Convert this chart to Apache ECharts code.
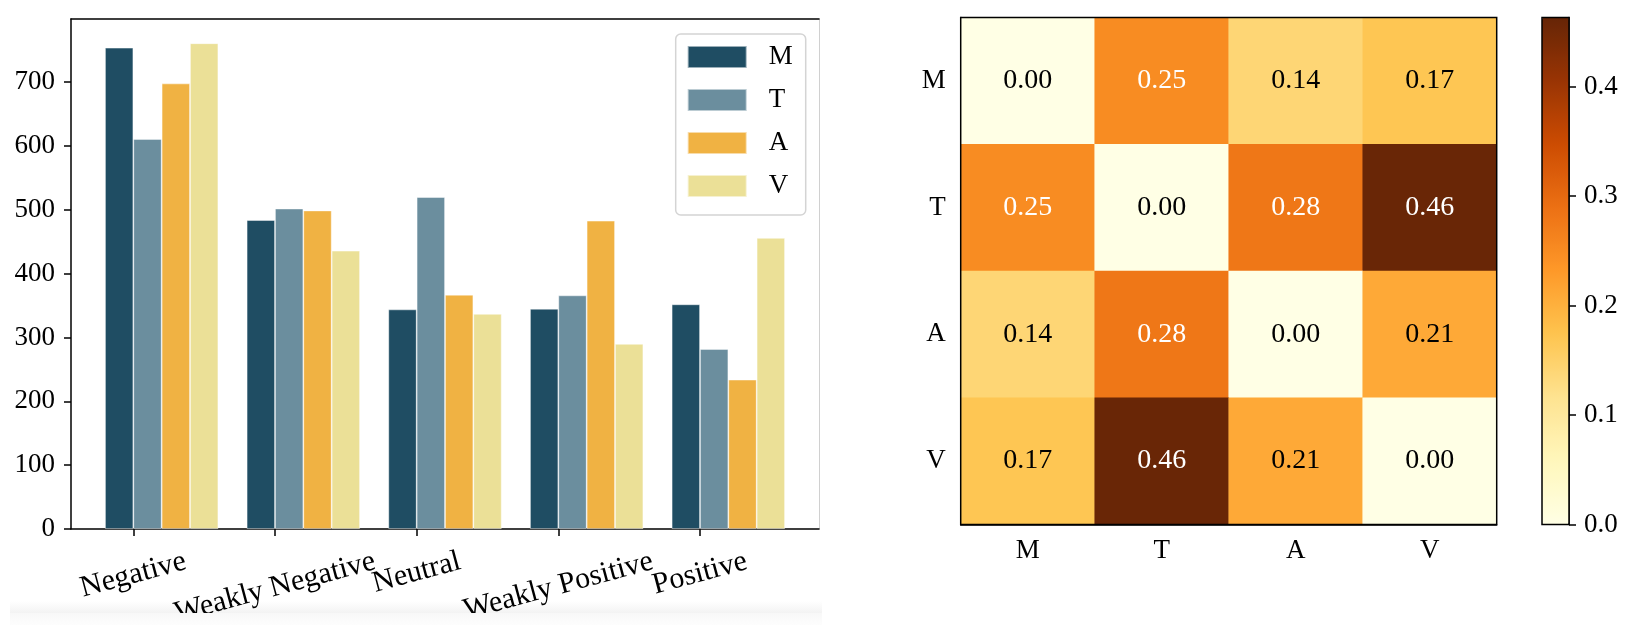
<!DOCTYPE html>
<html><head><meta charset="utf-8">
<script src="https://cdn.jsdelivr.net/npm/echarts@6/dist/echarts.min.js"></script>
<style>html,body{margin:0;padding:0;background:#fff}#c{width:1639px;height:625px}</style>
</head><body><div id="c"></div>
<script>
// ---------- data ----------
const categories = ['Negative', 'Weakly Negative', 'Neutral', 'Weakly Positive', 'Positive'];
const seriesNames = ['M', 'T', 'A', 'V'];
const valuesM = [754, 484, 344, 345, 352];
const valuesT = [611, 502, 520, 366, 282];
const valuesA = [698, 499, 367, 483, 234];
const valuesV = [761, 436, 337, 290, 456];
const barYTicks = [0, 100, 200, 300, 400, 500, 600, 700];

const modalities = ['M', 'T', 'A', 'V'];
const distM = [0.00, 0.25, 0.14, 0.17];
const distT = [0.25, 0.00, 0.28, 0.46];
const distA = [0.14, 0.28, 0.00, 0.21];
const distV = [0.17, 0.46, 0.21, 0.00];
const colorbarTicks = [0, 0.1, 0.2, 0.3, 0.4];

// ---------- style / layout ----------
const FONT = '"Liberation Serif", "Times New Roman", serif';
const FS = 27;
const XFS = 30;
const barColors = ['#1f4d63', '#6b8e9e', '#f0b243', '#ebe097'];
const ylorbr = ['#ffffe5', '#fff7bc', '#fee391', '#fec44f', '#fe9929', '#ec7014', '#cc4c02', '#993404', '#662506'];
const barGrid = {left: 71, top: 19, width: 748, height: 510};
const xMin = -0.44, xMax = 4.84, yMax = 799;
const barOffsets = [-0.1, 0.1, 0.3, 0.5];
const BW = barGrid.width * 0.2 / (xMax - xMin);
const heatGrid = {left: 960.7, top: 17.5, width: 536, height: 507};
const cbGrid = {left: 1542, top: 17.5, width: 27, height: 507};
const cbMax = 0.463;
const catTicks = categories.map((c, i) => i);

const ROT = 15;
const SIN = Math.sin(ROT * Math.PI / 180);
const LABEL_BASE = 32;
const mctx = document.createElement('canvas').getContext('2d');
mctx.font = XFS + 'px "Liberation Serif"';

const allValues = [valuesM, valuesT, valuesA, valuesV];
const distRows = [distM, distT, distA, distV];

const black = {color: '#000', width: 1.5};
const barSeries = seriesNames.map((n, k) => ({
  type: 'bar', name: n, xAxisIndex: 0, yAxisIndex: 0,
  data: allValues[k].map((v, i) => [i + barOffsets[k], v]),
  barWidth: BW, barGap: '-100%',
  itemStyle: {color: barColors[k], borderColor: 'rgba(255,255,255,0.55)', borderWidth: 0.8},
  emphasis: {disabled: true}
}));

const heatData = [];
distRows.forEach((row, r) => row.forEach((v, c) => {
  heatData.push({value: [c, r, v], label: {color: v > 0.23 ? '#ffffff' : '#000000'}});
}));

// one label-only axis per category so each rotated label can sit like matplotlib's (centered under its tick)
const labelAxes = categories.map((c, i) => {
  const w = mctx.measureText(c).width;
  return {type: 'value', gridIndex: 0, min: xMin, max: xMax, position: 'bottom',
    axisLine: {show: false}, axisTick: {show: false}, splitLine: {show: false},
    axisLabel: {customValues: [i], rotate: ROT, align: 'center', verticalAlign: 'middle',
      margin: LABEL_BASE + w * SIN / 2, hideOverlap: false, showMinLabel: true, showMaxLabel: true,
      fontFamily: FONT, fontSize: XFS, color: '#000', formatter: () => c}};
});

const gridBase = {outerBoundsMode: 'none', containLabel: false};
const option = {
  animation: false,
  backgroundColor: '#ffffff',
  grid: [
    Object.assign({}, gridBase, barGrid),
    Object.assign({}, gridBase, {show: true, borderColor: '#000', borderWidth: 1.5, backgroundColor: 'transparent', z: 10}, heatGrid),
    Object.assign({}, gridBase, {show: true, borderColor: '#000', borderWidth: 1.5, backgroundColor: 'transparent', z: 10}, cbGrid)
  ],
  legend: {
    data: seriesNames, orient: 'vertical', left: 675.7, top: 34,
    padding: [8, 13, 14, 11], itemWidth: 59, itemHeight: 22, itemGap: 13,
    borderColor: '#d4d4d4', borderWidth: 1.5, borderRadius: 5, icon: 'rect',
    textStyle: {fontFamily: FONT, fontSize: FS, color: '#000', lineHeight: 30, padding: [0, 0, 0, 17]}
  },
  xAxis: [
    {type: 'value', gridIndex: 0, min: xMin, max: xMax, position: 'bottom',
     axisLine: {onZero: false, lineStyle: black},
     axisTick: {customValues: catTicks, length: 7, lineStyle: black},
     axisLabel: {show: false}, splitLine: {show: false}},
    {type: 'value', gridIndex: 0, min: xMin, max: xMax, position: 'top',
     axisLine: {onZero: false, lineStyle: black}, axisTick: {show: false}, axisLabel: {show: false}, splitLine: {show: false}},
    {type: 'category', gridIndex: 1, data: modalities,
     axisLine: {onZero: false, lineStyle: black}, axisTick: {alignWithLabel: true, length: 7, lineStyle: black},
     axisLabel: {fontFamily: FONT, fontSize: FS, color: '#000', margin: 13}, splitLine: {show: false}},
    {type: 'value', gridIndex: 2, show: false}
  ].concat(labelAxes),
  yAxis: [
    {type: 'value', gridIndex: 0, min: 0, max: yMax, position: 'left',
     axisLine: {show: true, onZero: false, lineStyle: black},
     axisTick: {show: true, customValues: barYTicks, length: 7, lineStyle: black},
     axisLabel: {customValues: barYTicks, fontFamily: FONT, fontSize: FS, color: '#000', margin: 16},
     splitLine: {show: false}},
    {type: 'value', gridIndex: 0, position: 'right', min: 0, max: 1,
     axisLine: {show: true, onZero: false, lineStyle: {color: '#d0d0d0', width: 1}}, axisTick: {show: false}, axisLabel: {show: false}, splitLine: {show: false}},
    {type: 'category', gridIndex: 1, data: modalities, inverse: true,
     axisLine: {onZero: false, lineStyle: black}, axisTick: {alignWithLabel: true, length: 7, lineStyle: black},
     axisLabel: {fontFamily: FONT, fontSize: FS, color: '#000', margin: 15}, splitLine: {show: false}},
    {type: 'value', gridIndex: 2, min: 0, max: cbMax, position: 'right',
     axisLine: {show: true, onZero: false, lineStyle: black},
     axisTick: {show: true, customValues: colorbarTicks, length: 7, lineStyle: black},
     axisLabel: {customValues: colorbarTicks, formatter: v => v.toFixed(1), fontFamily: FONT, fontSize: FS, color: '#000', margin: 15},
     splitLine: {show: false}}
  ],
  visualMap: {
    type: 'continuous', min: 0, max: cbMax, seriesIndex: 4, calculable: false, hoverLink: false,
    inRange: {color: ylorbr}, orient: 'vertical',
    left: cbGrid.left, top: cbGrid.top, itemWidth: cbGrid.width, itemHeight: cbGrid.height,
    padding: 0, text: null, showLabel: false
  },
  graphic: [
    {type: 'rect', shape: {x: 10, y: 601, width: 812, height: 12},
     style: {fill: {type: 'linear', x: 0, y: 0, x2: 0, y2: 1, colorStops: [{offset: 0, color: '#ffffff'}, {offset: 1, color: '#f3f3f3'}]}},
     z: -1, silent: true},
    {type: 'rect', shape: {x: 10, y: 613, width: 812, height: 12},
     style: {fill: {type: 'linear', x: 0, y: 0, x2: 0, y2: 1, colorStops: [{offset: 0, color: '#f8f8f8'}, {offset: 1, color: '#fdfdfd'}]}},
     z: 100, silent: true}
  ],
  series: barSeries.concat([{
    type: 'heatmap', xAxisIndex: 2, yAxisIndex: 2, data: heatData,
    label: {show: true, fontFamily: FONT, fontSize: 28, formatter: p => p.value[2].toFixed(2)},
    emphasis: {disabled: true}
  }])
};
const chart = echarts.init(document.getElementById('c'), null, {renderer: 'canvas'});
chart.setOption(option);
</script>
</body></html>
